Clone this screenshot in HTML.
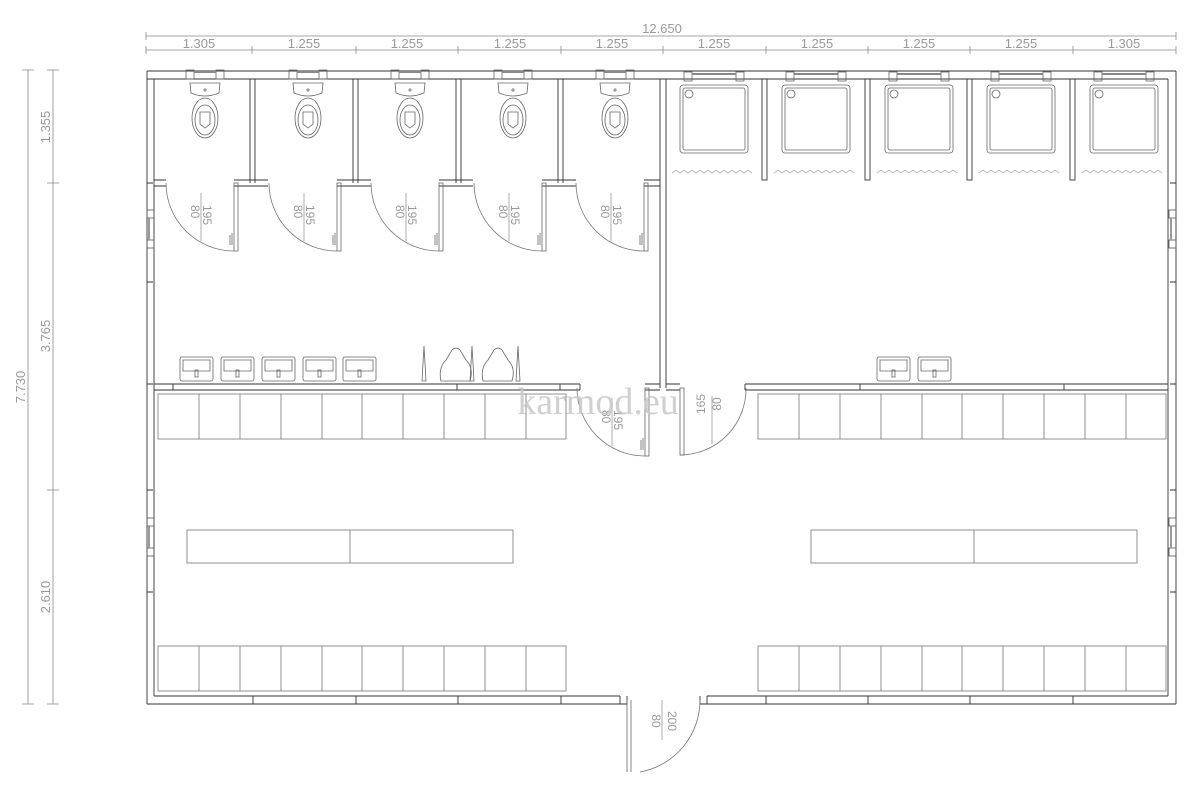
<!DOCTYPE html>
<html><head><meta charset="utf-8"><style>
html,body{margin:0;padding:0;background:#fff;width:1200px;height:800px;overflow:hidden}
svg{display:block}
text{font-family:"Liberation Sans",sans-serif;fill:#999;font-size:13px;stroke:none}
</style></head><body>
<svg width="1200" height="800" viewBox="0 0 1200 800" xmlns="http://www.w3.org/2000/svg">
<defs>
<g id="toilet" fill="none" stroke="#666" stroke-width="0.8">
 <path d="M-15,83 L15,83 L14,93 Q0,99 -14,93 Z"/>
 <ellipse cx="0" cy="118" rx="13" ry="20"/>
 <ellipse cx="0" cy="120" rx="10" ry="15"/>
 <path d="M-5,112 L5,112 L5,124 L0,128 L-5,124 Z"/>
 <path d="M-2,90 h4 M0,88 v4"/>
 <rect x="-19" y="70" width="8" height="9"/><rect x="11" y="70" width="8" height="9"/>
 <line x1="-11" y1="72" x2="11" y2="72" stroke="#888" stroke-width="2"/>
</g>
<g id="shower" fill="none" stroke="#666" stroke-width="0.8">
 <rect x="0" y="0" width="68" height="68" rx="3"/>
 <rect x="3" y="3" width="62" height="62" rx="2"/>
 <circle cx="9" cy="9" r="4"/>
 <path d="M-8,88 l4,-3 l4,3 l4,-3 l4,3 l4,-3 l4,3 l4,-3 l4,3 l4,-3 l4,3 l4,-3 l4,3 l4,-3 l4,3 l4,-3 l4,3 l4,-3 l4,3 l4,-3 l4,3" stroke="#999" stroke-width="0.6"/>
 <rect x="4" y="-13" width="8" height="9"/><rect x="56" y="-13" width="8" height="9"/>
 <line x1="12" y1="-11" x2="56" y2="-11" stroke="#888" stroke-width="2"/>
</g>
<g id="door" fill="none" stroke="#666" stroke-width="0.8">
 <path d="M-68,0 A68,68 0 0 0 0,68" stroke="#777"/>
 <rect x="0" y="0" width="4" height="68"/>
 <path d="M-2,50 v12 M-4,52 v10"/>
 <line x1="-33" y1="10" x2="-33" y2="58" stroke="#999"/>
 <text x="0" y="0" transform="translate(-31,22) rotate(90)" style="font-size:12px">195</text>
 <text x="0" y="0" transform="translate(-43,22) rotate(90)" style="font-size:12px">80</text>
</g>
<g id="sink" fill="none" stroke="#666" stroke-width="0.8">
 <rect x="0" y="0" width="33" height="24" rx="2"/>
 <path d="M3,3 h27 v11 h-27 z"/>
 <rect x="15" y="13" width="3" height="7"/>
</g>
<g id="lockers" fill="none" stroke="#777" stroke-width="0.8">
 <rect x="0" y="0" width="408" height="45"/>
 <path d="M41,0v45M82,0v45M123,0v45M164,0v45M204,0v45M245,0v45M286,0v45M327,0v45M368,0v45"/>
</g>
<g id="win" fill="none" stroke="#555" stroke-width="0.8">
 <rect x="0" y="0" width="7" height="8"/><rect x="0" y="30" width="7" height="8"/>
 <line x1="2" y1="8" x2="2" y2="30" stroke="#999" stroke-width="2"/>
</g>
</defs>

<g stroke="#888" stroke-width="0.8" fill="none">
 <line x1="146" y1="36" x2="1176" y2="36"/>
 <line x1="146" y1="50" x2="1176" y2="50"/>
 <path d="M146,32v8M1176,32v8M146,46v8M252,46v8M356,46v8M458,46v8M561,46v8M663,46v8M766,46v8M868,46v8M970,46v8M1073,46v8M1176,46v8"/>
 <line x1="28" y1="70" x2="28" y2="704"/>
 <line x1="53" y1="70" x2="53" y2="704"/>
 <path d="M22,70h12M22,704h12M47,70h12M47,183h12M47,490h12M47,704h12"/>
</g>
<g>
 <text x="662" y="33" text-anchor="middle">12.650</text>
 <text x="199" y="48" text-anchor="middle">1.305</text>
 <text x="304" y="48" text-anchor="middle">1.255</text>
 <text x="407" y="48" text-anchor="middle">1.255</text>
 <text x="510" y="48" text-anchor="middle">1.255</text>
 <text x="612" y="48" text-anchor="middle">1.255</text>
 <text x="714" y="48" text-anchor="middle">1.255</text>
 <text x="817" y="48" text-anchor="middle">1.255</text>
 <text x="919" y="48" text-anchor="middle">1.255</text>
 <text x="1021" y="48" text-anchor="middle">1.255</text>
 <text x="1124" y="48" text-anchor="middle">1.305</text>
 <text transform="translate(25,387) rotate(-90)" text-anchor="middle">7.730</text>
 <text transform="translate(50,127) rotate(-90)" text-anchor="middle">1.355</text>
 <text transform="translate(50,336) rotate(-90)" text-anchor="middle">3.765</text>
 <text transform="translate(50,597) rotate(-90)" text-anchor="middle">2.610</text>
</g>

<g fill="none" stroke="#333" stroke-width="0.9">
 <path d="M147,71 H1176 M147,79 H1168"/>
 <path d="M147,71 V704 M154,79 V696"/>
 <path d="M1176,71 V704 M1168,79 V696"/>
 <path d="M147,704 H627 M154,696 H620 M700,704 H1176 M707,696 H1168"/>
 <path d="M620,696v8M627,696v8M700,696v8M707,696v8"/>
 <path d="M147,183h6M147,282h6M147,384h6M147,490h6M147,592h6M1170,183h6M1170,282h6M1170,384h6M1170,490h6M1170,592h6"/>
 <path d="M253,696v8M356,696v8M458,696v8M561,696v8M766,696v8M868,696v8M970,696v8M1073,696v8"/>
 <path d="M154,384 H580 M154,390 H580 M580,384v6 M645,384 H660 M666,384 H680 M645,390H660 M666,390H680 M745,384 H1168 M745,390 H1168 M745,384v6"/>
 <path d="M660,79 V388 M666,79 V388"/>
 <path d="M250,79V183 M255,79V183 M353,79V183 M358,79V183 M456,79V183 M461,79V183 M558,79V183 M563,79V183"/>
 <path d="M154,180 H166 M154,186 H166 M234,180 H268 M234,186 H268 M337,180 H371 M337,186 H371 M439,180 H473 M439,186 H473 M542,180 H576 M542,186 H576 M644,180 H660 M644,186 H660"/>
 <rect x="762" y="79" width="5" height="101"/><rect x="865" y="79" width="5" height="101"/>
 <rect x="967" y="79" width="5" height="101"/><rect x="1070" y="79" width="5" height="101"/>
 <path d="M173,384v6M457,384v6M560,384v6M860,384v6M1064,384v6"/>
</g>

<use href="#toilet" x="205"/><use href="#toilet" x="308"/><use href="#toilet" x="410"/><use href="#toilet" x="513"/><use href="#toilet" x="615"/>
<use href="#shower" x="680" y="85"/><use href="#shower" x="782" y="85"/><use href="#shower" x="885" y="85"/><use href="#shower" x="987" y="85"/><use href="#shower" x="1090" y="85"/>

<use href="#door" x="234" y="183"/><use href="#door" x="337" y="183"/><use href="#door" x="439" y="183"/><use href="#door" x="542" y="183"/><use href="#door" x="644" y="183"/>
<use href="#door" x="645" y="388"/>
<g fill="none" stroke="#666" stroke-width="0.8">
 <path d="M746,388 A66,66 0 0 1 680,455" stroke="#777"/>
 <rect x="680" y="388" width="4" height="67"/>
 <line x1="712" y1="396" x2="712" y2="444" stroke="#999"/>
 <path d="M627,700 V772 M631,700 V772"/>
 <path d="M700,700 A73,73 0 0 1 640,772" stroke="#777"/>
 <line x1="662" y1="700" x2="662" y2="740" stroke="#999"/>
</g>
<text transform="translate(701,404) rotate(-90)" text-anchor="middle" style="font-size:12px" dy="4">165</text>
<text transform="translate(717,404) rotate(-90)" text-anchor="middle" style="font-size:12px" dy="4">80</text>
<text transform="translate(652,721) rotate(90)" text-anchor="middle" style="font-size:12px">80</text>
<text transform="translate(668,721) rotate(90)" text-anchor="middle" style="font-size:12px">200</text>

<use href="#win" x="147" y="210"/><use href="#win" x="147" y="518"/><use href="#win" x="1169" y="210"/><use href="#win" x="1169" y="518"/>

<use href="#sink" x="180" y="357"/><use href="#sink" x="221" y="357"/><use href="#sink" x="262" y="357"/><use href="#sink" x="303" y="357"/><use href="#sink" x="343" y="357"/>
<use href="#sink" x="877" y="357"/><use href="#sink" x="918" y="357"/>
<g fill="none" stroke="#666" stroke-width="0.8">
 <path d="M441,381 Q438,368 446,360 L452,350 Q456,346 460,350 L466,360 Q474,368 470,381 Z"/>
 <path d="M483,381 Q480,368 488,360 L494,350 Q498,346 502,350 L508,360 Q516,368 512,381 Z"/>
 <path d="M422,381 L424,346 L426,381 Z M470,381 L472,346 L474,381 Z M516,381 L518,346 L520,381 Z"/>
</g>

<use href="#lockers" x="158" y="394"/><use href="#lockers" x="758" y="394"/>
<use href="#lockers" x="158" y="646"/><use href="#lockers" x="758" y="646"/>
<g fill="none" stroke="#777" stroke-width="0.8">
 <rect x="187" y="530" width="326" height="33"/><line x1="350" y1="530" x2="350" y2="563"/>
 <rect x="811" y="530" width="326" height="33"/><line x1="974" y1="530" x2="974" y2="563"/>
</g>
<text x="598" y="414" text-anchor="middle" style="font-family:'Liberation Serif',serif;font-size:38px;fill:#c8c8c8;fill-opacity:0.85">karmod.eu</text>
</svg>
</body></html>
